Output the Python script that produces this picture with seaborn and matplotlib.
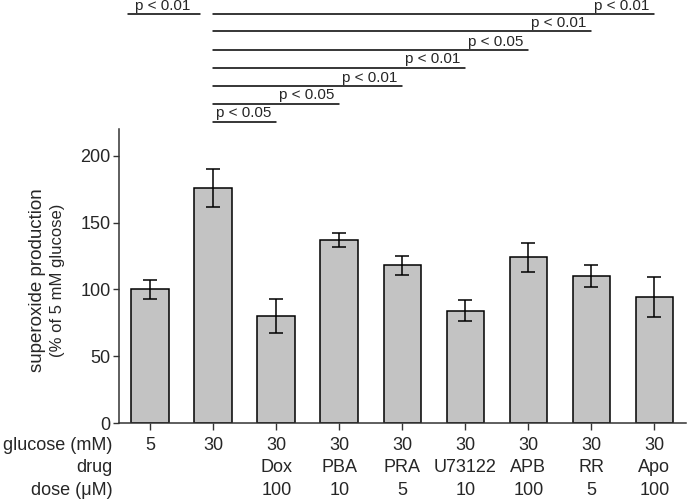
import matplotlib
matplotlib.use("Agg")
import matplotlib.pyplot as plt
import matplotlib.transforms as mtransforms
import seaborn as sns
import numpy as np
import pandas as pd

# data
glucose = ["5", "30", "30", "30", "30", "30", "30", "30", "30"]
drugs = ["", "", "Dox", "PBA", "PRA", "U73122", "APB", "RR", "Apo"]
doses = ["", "", "100", "10", "5", "10", "100", "5", "100"]
means = [100, 176, 80, 137, 118, 84, 124, 110, 94]
errs = [7, 14, 13, 5, 7, 8, 11, 8, 15]

# significance brackets: (from group, to group, label, height)
brackets = [
    (1, 2, "p < 0.05", 225.5),
    (1, 3, "p < 0.05", 239),
    (1, 4, "p < 0.01", 252),
    (1, 5, "p < 0.01", 266),
    (1, 6, "p < 0.05", 279),
    (1, 7, "p < 0.01", 293),
    (1, 8, "p < 0.01", 306),
]
left_bracket = (0, 1, "p < 0.01", 306)

sns.set_style("ticks")
plt.rcParams['font.family'] = ['Liberation Sans', 'DejaVu Sans']

df = pd.DataFrame({"grp": [str(i) for i in range(len(means))], "val": means})

fig = plt.figure(figsize=(6.87, 5.0), dpi=100)
ax = fig.add_axes([0.173, 0.154, 0.8255, 0.588])

sns.barplot(data=df, x="grp", y="val", color="#c3c3c3", edgecolor="black",
            linewidth=1.1, width=0.6, saturation=1, ax=ax)
ax.errorbar(np.arange(len(means)), means, yerr=errs, fmt="none",
            ecolor="black", elinewidth=1.1, capsize=5, capthick=1.1)

ax.set_xlim(-0.5, 8.5)
ax.set_ylim(0, 220)
ax.set_yticks([0, 50, 100, 150, 200])
ax.tick_params(axis="y", labelsize=13, length=4, width=1, color="#333333", pad=2)
ax.tick_params(axis="x", length=5, width=1, color="#333333")
ax.set_xticks(np.arange(len(means)))
ax.set_xticklabels([""] * len(means))
ax.set_xlabel("")
ax.set_ylabel("")
for s in ["top", "right"]:
    ax.spines[s].set_visible(False)
for s in ["left", "bottom"]:
    ax.spines[s].set_linewidth(1.1)
    ax.spines[s].set_color("#333333")

rows = [(-0.075, "glucose (mM)", glucose), (-0.153, "drug", drugs), (-0.231, "dose (μM)", doses)]
trans = mtransforms.blended_transform_factory(ax.transData, ax.transAxes)
for yy, head, labels in rows:
    ax.text(-0.0106, yy, head, transform=ax.transAxes, ha="right", va="center", fontsize=13)
    for i, lab in enumerate(labels):
        ax.text(i, yy, lab, transform=trans, ha="center", va="center", fontsize=13)

# y axis label (two lines)
fig.text(0.055, 0.44, "superoxide production", rotation=90, ha="center", va="center", fontsize=13.5)
fig.text(0.083, 0.44, "(% of 5 mM glucose)", rotation=90, ha="center", va="center", fontsize=12)

# significance lines
for a, b, lab, h in brackets:
    ax.plot([a, b], [h, h], color="black", lw=1.1, clip_on=False)
    ax.text(b - 0.08, h + 1.0, lab, ha="right", va="bottom", fontsize=11)
a, b, lab, h = left_bracket
ax.plot([a - 0.36, b - 0.21], [h, h], color="black", lw=1.1, clip_on=False)
ax.text(a - 0.25, h + 1.0, lab, ha="left", va="bottom", fontsize=11)

fig.savefig("out.png", dpi=100)
